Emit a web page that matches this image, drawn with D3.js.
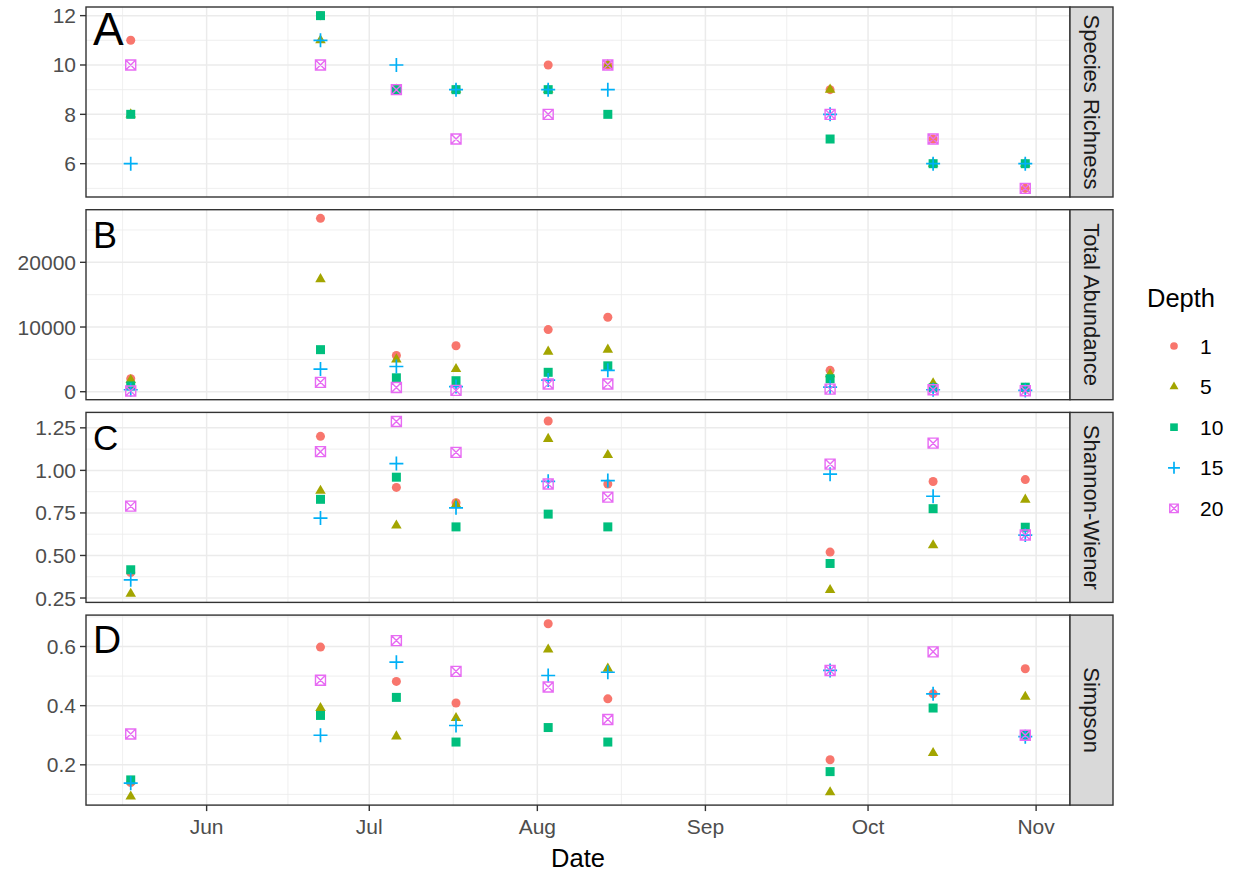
<!DOCTYPE html>
<html>
<head>
<meta charset="utf-8">
<script src="https://cdnjs.cloudflare.com/ajax/libs/d3/7.8.5/d3.min.js"></script>
<style>
body { margin: 0; background: #fff; }
svg { display: block; font-family: "Liberation Sans", Arial, sans-serif; }
</style>
</head>
<body>
<svg id="chart"></svg>
<script>
// sampling dates (x) and depth groups
var sampleDates = ["2019-05-18", "2019-06-22", "2019-07-06", "2019-07-17", "2019-08-03",
                   "2019-08-14", "2019-09-24", "2019-10-13", "2019-10-30"];
var depths = ["1", "5", "10", "15", "20"];
var depthColors = ["#F8766D", "#A3A500", "#00BF7D", "#00B0F6", "#E76BF3"];

var facetNames = ["Species Richness", "Total Abundance", "Shannon-Wiener", "Simpson"];
var facetLetters = ["A", "B", "C", "D"];

// one row per depth (1, 5, 10, 15, 20), one column per sampling date
var richness = [
	[11, 12, 9, 9, 10, 10, 9, 7, 5],
	[8, 11, 9, 9, 9, 10, 9, 6, 6],
	[8, 12, 9, 9, 9, 8, 7, 6, 6],
	[6, 11, 10, 9, 9, 9, 8, 6, 6],
	[10, 10, 9, 7, 8, 10, 8, 7, 5]
];
var abundance = [
	[2000, 26800, 5600, 7100, 9600, 11500, 3300, 900, 400],
	[1800, 17400, 5000, 3500, 6200, 6500, 2700, 1300, 500],
	[900, 6500, 2150, 1700, 3000, 4000, 2000, 600, 700],
	[300, 3500, 3900, 800, 1800, 3300, 700, 300, 200],
	[100, 1450, 650, 200, 1200, 1200, 400, 300, 150]
];
var shannon = [
	[0.40, 1.20, 0.90, 0.81, 1.29, 0.92, 0.52, 0.935, 0.946],
	[0.275, 0.88, 0.676, 0.80, 1.185, 1.09, 0.297, 0.56, 0.828],
	[0.416, 0.83, 0.96, 0.668, 0.743, 0.668, 0.453, 0.775, 0.666],
	[0.357, 0.72, 1.04, 0.78, 0.936, 0.94, 0.978, 0.848, 0.62],
	[0.79, 1.11, 1.287, 1.106, 0.92, 0.843, 1.037, 1.16, 0.62]
];
var simpson = [
	[0.14, 0.598, 0.482, 0.409, 0.677, 0.423, 0.217, 0.44, 0.525],
	[0.093, 0.392, 0.296, 0.358, 0.59, 0.525, 0.107, 0.24, 0.43],
	[0.149, 0.367, 0.428, 0.277, 0.326, 0.277, 0.177, 0.392, 0.30],
	[0.138, 0.30, 0.547, 0.333, 0.502, 0.513, 0.519, 0.44, 0.295],
	[0.304, 0.486, 0.62, 0.516, 0.463, 0.353, 0.519, 0.582, 0.30]
];

var yTickValues = [[6, 8, 10, 12], [0, 10000, 20000], [0.25, 0.5, 0.75, 1, 1.25], [0.2, 0.4, 0.6]];
var yTickFormats = ["d", "d", ".2f", ".1f"];

var facetData = [richness, abundance, shannon, simpson];

// ---- layout / style ----
var svgWidth = 1236, svgHeight = 871;
var panelLeft = 86, panelRight = 1070, stripWidth = 43;
var panelTop0 = 7, panelHeight = 190, panelGap = 12.7;
var letterSizes = [46, 36, 35, 39];   // the panel letters were not all the same size
var axisFont = "21px", stripFont = "22px", titleFont = "25.5px";

var svg = d3.select("#chart").attr("width", svgWidth).attr("height", svgHeight);

var parseDate = d3.timeParse("%Y-%m-%d");
var dates = sampleDates.map(parseDate);

function expand(ext) {
	var pad = (ext[1] - ext[0]) * 0.05;
	return [ext[0] - pad, ext[1] + pad];
}

var dateExt = d3.extent(dates);
var dateSpan = dateExt[1] - dateExt[0];
var xScale = d3.scaleTime()
	.domain([new Date(+dateExt[0] - dateSpan * 0.05), new Date(+dateExt[1] + dateSpan * 0.05)])
	.range([panelLeft, panelRight]);

var monthTicks = d3.timeMonth.range(d3.timeMonth.floor(xScale.domain()[0]), xScale.domain()[1]);
var xMajor = monthTicks.filter(function(d) { return d >= xScale.domain()[0]; });
var xMinor = [];
for (var m = 0; m < monthTicks.length; m++) {
	var a = monthTicks[m], b = d3.timeMonth.offset(a, 1);
	var mid = new Date((+a + +b) / 2);
	if (mid >= xScale.domain()[0] && mid <= xScale.domain()[1]) xMinor.push(mid);
}

// shapes: 16 circle, 17 triangle, 15 square, 3 plus, 7 box-cross
function shapePath(i, k) {
	k = k || 1;
	if (i === 0) return d3.symbol(d3.symbolCircle, 64 * k * k)();
	if (i === 1) return d3.symbol(d3.symbolTriangle, 48 * k * k)();
	if (i === 2) return d3.symbol(d3.symbolSquare, 81 * k * k)();
	if (i === 3) {
		var p = 7 * k;
		return "M" + (-p) + ",0H" + p + "M0," + (-p) + "V" + p;
	}
	var s = 5 * k;
	return "M" + (-s) + "," + (-s) + "H" + s + "V" + s + "H" + (-s) + "Z" +
		"M" + (-s) + "," + (-s) + "L" + s + "," + s + "M" + s + "," + (-s) + "L" + (-s) + "," + s;
}
function styleShape(sel, i) {
	if (i >= 3) {
		sel.attr("fill", "none").attr("stroke", depthColors[i]).attr("stroke-width", i === 3 ? 1.7 : 1.4);
	} else {
		sel.attr("fill", depthColors[i]).attr("stroke", "none");
	}
}

facetData.forEach(function(values, f) {
	var top = panelTop0 + f * (panelHeight + panelGap);
	var bottom = top + panelHeight;
	var all = d3.merge(values);
	var yScale = d3.scaleLinear().domain(expand(d3.extent(all))).range([bottom, top]);

	var ticks = yTickValues[f];
	var step = ticks[1] - ticks[0];
	var yMinor = [ticks[0] - step / 2].concat(ticks.map(function(t) { return t + step / 2; }))
		.filter(function(v) { return v >= yScale.domain()[0] && v <= yScale.domain()[1]; });

	var g = svg.append("g");
	g.append("rect").attr("x", panelLeft).attr("y", top)
		.attr("width", panelRight - panelLeft).attr("height", panelHeight).attr("fill", "#fff");

	// minor grid
	g.selectAll(".ymin").data(yMinor).enter().append("line")
		.attr("x1", panelLeft).attr("x2", panelRight)
		.attr("y1", function(d) { return yScale(d); }).attr("y2", function(d) { return yScale(d); })
		.attr("stroke", "#EBEBEB").attr("stroke-width", 0.8);
	g.selectAll(".xmin").data(xMinor).enter().append("line")
		.attr("y1", top).attr("y2", bottom)
		.attr("x1", function(d) { return xScale(d); }).attr("x2", function(d) { return xScale(d); })
		.attr("stroke", "#EBEBEB").attr("stroke-width", 0.8);
	// major grid
	g.selectAll(".ymaj").data(ticks).enter().append("line")
		.attr("x1", panelLeft).attr("x2", panelRight)
		.attr("y1", function(d) { return yScale(d); }).attr("y2", function(d) { return yScale(d); })
		.attr("stroke", "#EBEBEB").attr("stroke-width", 1.5);
	g.selectAll(".xmaj").data(xMajor).enter().append("line")
		.attr("y1", top).attr("y2", bottom)
		.attr("x1", function(d) { return xScale(d); }).attr("x2", function(d) { return xScale(d); })
		.attr("stroke", "#EBEBEB").attr("stroke-width", 1.5);

	// points, depth by depth
	values.forEach(function(row, i) {
		var pts = g.selectAll(".pt" + i).data(row).enter().append("path")
			.attr("d", shapePath(i))
			.attr("transform", function(d, j) { return "translate(" + xScale(dates[j]) + "," + yScale(d) + ")"; });
		styleShape(pts, i);
	});

	// panel border
	g.append("rect").attr("x", panelLeft).attr("y", top)
		.attr("width", panelRight - panelLeft).attr("height", panelHeight)
		.attr("fill", "none").attr("stroke", "#333333").attr("stroke-width", 1.4);

	// strip
	g.append("rect").attr("x", panelRight).attr("y", top)
		.attr("width", stripWidth).attr("height", panelHeight)
		.attr("fill", "#D9D9D9").attr("stroke", "#333333").attr("stroke-width", 1.4);
	g.append("text")
		.attr("transform", "translate(" + (panelRight + stripWidth / 2) + "," + (top + panelHeight / 2) + ") rotate(90)")
		.attr("text-anchor", "middle").attr("dominant-baseline", "central")
		.attr("font-size", stripFont).attr("fill", "#1A1A1A")
		.text(facetNames[f]);

	// y axis
	var fmt = d3.format(yTickFormats[f]);
	g.selectAll(".ytick").data(ticks).enter().append("line")
		.attr("x1", panelLeft - 6).attr("x2", panelLeft)
		.attr("y1", function(d) { return yScale(d); }).attr("y2", function(d) { return yScale(d); })
		.attr("stroke", "#333333").attr("stroke-width", 1.4);
	g.selectAll(".ylab").data(ticks).enter().append("text")
		.attr("x", panelLeft - 10).attr("y", function(d) { return yScale(d); })
		.attr("text-anchor", "end").attr("dominant-baseline", "central")
		.attr("font-size", axisFont).attr("fill", "#4D4D4D")
		.text(function(d) { return fmt(d); });

	// panel letter
	g.append("text").attr("x", panelLeft + 7).attr("y", top + 38)
		.attr("font-size", letterSizes[f] + "px").attr("fill", "#000")
		.text(facetLetters[f]);

	// x axis only under the last panel
	if (f === facetData.length - 1) {
		g.selectAll(".xtick").data(xMajor).enter().append("line")
			.attr("x1", function(d) { return xScale(d); }).attr("x2", function(d) { return xScale(d); })
			.attr("y1", bottom).attr("y2", bottom + 6)
			.attr("stroke", "#333333").attr("stroke-width", 1.4);
		g.selectAll(".xlab").data(xMajor).enter().append("text")
			.attr("x", function(d) { return xScale(d); }).attr("y", bottom + 29)
			.attr("text-anchor", "middle")
			.attr("font-size", axisFont).attr("fill", "#4D4D4D")
			.text(d3.timeFormat("%b"));
		svg.append("text").attr("x", (panelLeft + panelRight) / 2).attr("y", 867)
			.attr("text-anchor", "middle").attr("font-size", titleFont).attr("fill", "#000")
			.text("Date");
	}
});

// legend
var legend = svg.append("g");
legend.append("text").attr("x", 1147).attr("y", 307)
	.attr("font-size", titleFont).attr("fill", "#000").text("Depth");
depths.forEach(function(d, i) {
	var cy = 346 + i * 40.6;
	var key = legend.append("path").attr("d", shapePath(i, 0.85))
		.attr("transform", "translate(1174," + cy + ")");
	styleShape(key, i);
	legend.append("text").attr("x", 1200).attr("y", cy)
		.attr("dominant-baseline", "central")
		.attr("font-size", axisFont).attr("fill", "#000").text(d);
});
</script>
</body>
</html>
